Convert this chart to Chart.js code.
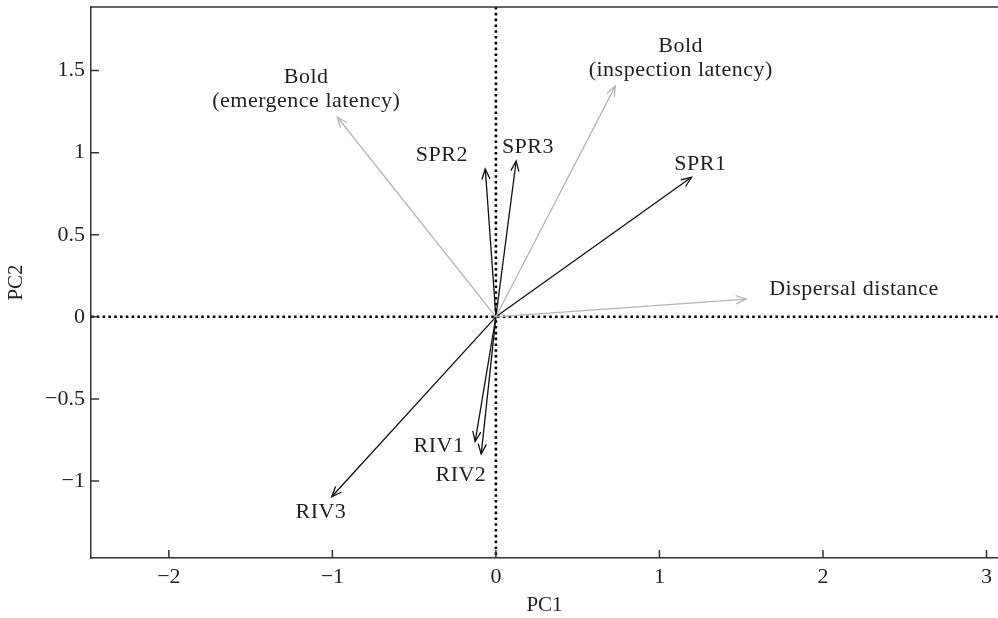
<!DOCTYPE html>
<html>
<head>
<meta charset="utf-8">
<script src="https://cdn.jsdelivr.net/npm/chart.js@4.4.1/dist/chart.umd.min.js"></script>
<style>
  body { margin: 0; background: #fff; }
  #wrap { width: 998px; height: 618px; }
</style>
</head>
<body>
<div id="wrap"><canvas id="myChart" width="998" height="618"></canvas></div>
<script>
// loadings (PC1, PC2)
const vectorNames = ['Bold (emergence latency)', 'Bold (inspection latency)', 'Dispersal distance',
                     'SPR1', 'SPR2', 'SPR3', 'RIV1', 'RIV2', 'RIV3'];
const pc1 = [-0.97, 0.73, 1.53, 1.196, -0.065, 0.124, -0.127, -0.09, -1.004];
const pc2 = [1.217, 1.405, 0.108, 0.85, 0.90, 0.949, -0.76, -0.836, -1.096];
const isBehaviour = [true, true, true, false, false, false, false, false, false];

// label text (one entry per line) and where the text sits, in PC units
const labelLines = [['Bold', '(emergence latency)'], ['Bold', '(inspection latency)'], ['Dispersal distance'],
                    ['SPR1'], ['SPR2'], ['SPR3'], ['RIV1'], ['RIV2'], ['RIV3']];
const labelPC1 = [-1.16, 1.13, 2.19, 1.25, -0.33, 0.196, -0.348, -0.214, -1.07];
const labelPC2 = [1.46, 1.65, 0.17, 0.93, 0.985, 1.035, -0.787, -0.964, -1.19];

const xTicks = [-2, -1, 0, 1, 2, 3];
const yTicks = [-1, -0.5, 0, 0.5, 1, 1.5];

const serif = '"Liberation Serif", "Times New Roman", serif';
const ink = '#222';
const grey = '#b5b5b5';

function minus(v) {
    return String(v).replace('-', '\u2212');
}

const datasets = vectorNames.map((name, i) => ({
    label: name,
    data: [{x: 0, y: 0}, {x: pc1[i], y: pc2[i]}],
    showLine: true,
    borderColor: isBehaviour[i] ? grey : '#111',
    borderWidth: 1.3,
    pointRadius: 0,
    fill: false
}));

const biplotExtras = {
    id: 'biplotExtras',
    beforeDatasetsDraw(chart) {
        const {ctx, chartArea: a, scales: {x, y}} = chart;
        ctx.save();
        // dotted zero lines
        ctx.strokeStyle = '#000';
        ctx.lineWidth = 2.6;
        ctx.setLineDash([2.6, 3.2]);
        const x0 = x.getPixelForValue(0);
        const y0 = y.getPixelForValue(0);
        ctx.beginPath();
        ctx.moveTo(x0, a.top);
        ctx.lineTo(x0, a.bottom);
        ctx.moveTo(a.left, y0);
        ctx.lineTo(a.right, y0);
        ctx.stroke();
        ctx.restore();
    },
    afterDatasetsDraw(chart) {
        const {ctx, chartArea: a, scales: {x, y}} = chart;
        ctx.save();
        // arrow heads
        chart.data.datasets.forEach((ds, i) => {
            const pts = chart.getDatasetMeta(i).data;
            const p0 = pts[0], p1 = pts[1];
            const ang = Math.atan2(p1.y - p0.y, p1.x - p0.x);
            const len = 11, spread = 0.38;
            ctx.strokeStyle = ds.borderColor;
            ctx.lineWidth = 1.3;
            ctx.beginPath();
            ctx.moveTo(p1.x - len * Math.cos(ang - spread), p1.y - len * Math.sin(ang - spread));
            ctx.lineTo(p1.x, p1.y);
            ctx.lineTo(p1.x - len * Math.cos(ang + spread), p1.y - len * Math.sin(ang + spread));
            ctx.stroke();
        });
        // labels
        ctx.fillStyle = ink;
        ctx.font = '22px ' + serif;
        ctx.letterSpacing = '0.5px';
        ctx.textAlign = 'center';
        ctx.textBaseline = 'middle';
        labelLines.forEach((lines, i) => {
            const px = x.getPixelForValue(labelPC1[i]);
            const py = y.getPixelForValue(labelPC2[i]);
            lines.forEach((t, k) => ctx.fillText(t, px, py + k * 24));
        });
        // top frame line
        ctx.strokeStyle = '#333';
        ctx.lineWidth = 1.5;
        ctx.beginPath();
        ctx.moveTo(a.left, a.top);
        ctx.lineTo(a.right, a.top);
        ctx.stroke();
        // inward tick marks
        ctx.beginPath();
        xTicks.forEach(v => {
            const px = x.getPixelForValue(v);
            ctx.moveTo(px, a.bottom);
            ctx.lineTo(px, a.bottom - 8);
        });
        yTicks.forEach(v => {
            const py = y.getPixelForValue(v);
            ctx.moveTo(a.left, py);
            ctx.lineTo(a.left + 8, py);
        });
        ctx.stroke();
        ctx.restore();
    }
};

const ctx = document.getElementById('myChart').getContext('2d');

const myChart = new Chart(ctx, {
    type: 'scatter',
    data: { datasets: datasets },
    plugins: [biplotExtras],
    options: {
        responsive: false,
        animation: false,
        layout: { padding: { top: 7, right: 0, left: 0, bottom: 0 } },
        plugins: {
            legend: { display: false },
            tooltip: { enabled: false }
        },
        scales: {
            x: {
                type: 'linear',
                min: -2.476,
                max: 3.07,
                afterBuildTicks: s => { s.ticks = xTicks.map(v => ({value: v})); },
                afterFit: s => { s.height = 60; },
                grid: { display: false, tickLength: 0 },
                border: { display: true, color: '#333', width: 1.5 },
                ticks: {
                    color: ink,
                    padding: 6,
                    maxRotation: 0,
                    font: { family: serif, size: 22 },
                    callback: v => minus(v)
                },
                title: {
                    display: true,
                    text: 'PC1',
                    color: ink,
                    font: { family: serif, size: 21 },
                    padding: { top: 2, bottom: 0 }
                }
            },
            y: {
                type: 'linear',
                min: -1.469,
                max: 1.887,
                afterBuildTicks: s => { s.ticks = yTicks.map(v => ({value: v})); },
                afterFit: s => { s.width = 91; },
                grid: { display: false, tickLength: 0 },
                border: { display: true, color: '#333', width: 1.5 },
                ticks: {
                    color: ink,
                    padding: 6,
                    font: { family: serif, size: 22, lineHeight: 0.05 },
                    callback: v => minus(v)
                },
                title: {
                    display: true,
                    text: 'PC2',
                    color: ink,
                    font: { family: serif, size: 21 },
                    padding: { top: 4, bottom: 2 }
                }
            }
        }
    }
});
</script>
</body>
</html>
